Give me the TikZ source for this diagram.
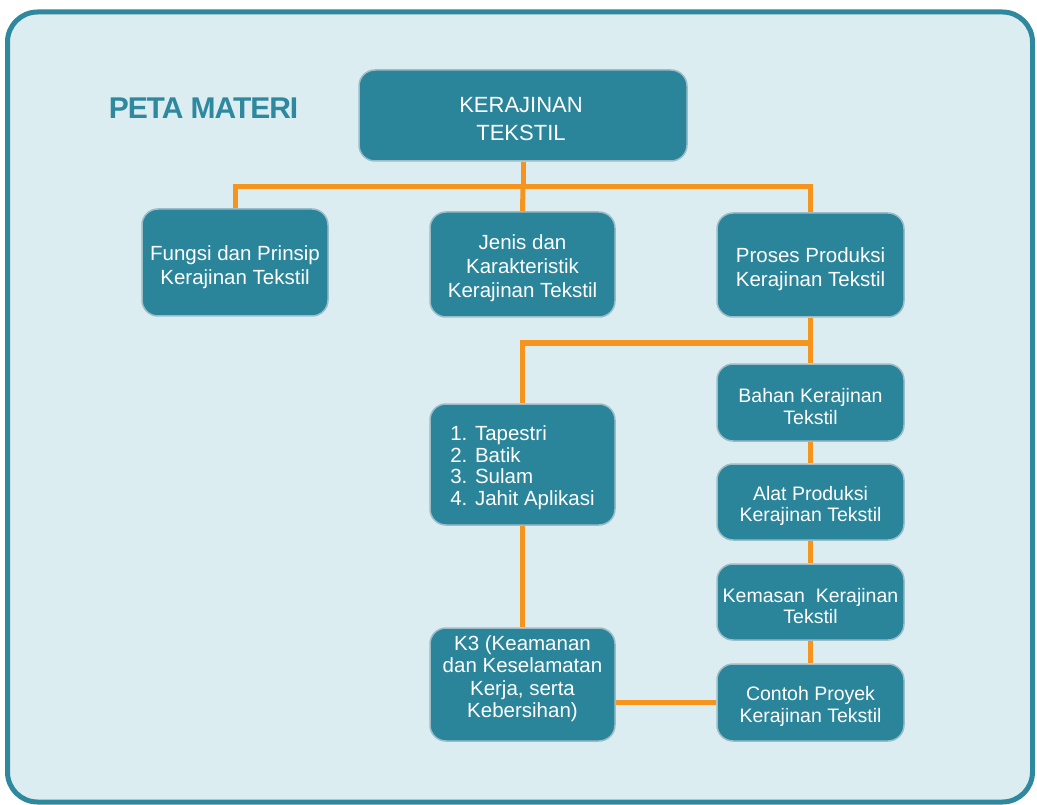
\documentclass[tikz,border=0pt]{standalone}
\usepackage{fontspec}
\setmainfont{Liberation Sans}
\definecolor{frameteal}{HTML}{2E889E}
\definecolor{bgpale}{HTML}{DCEDF1}
\definecolor{boxteal}{HTML}{2A859A}
\definecolor{boxedge}{HTML}{9CBCC8}
\definecolor{linkorange}{HTML}{F7941D}
\begin{document}
\begin{tikzpicture}[x=1pt,y=-1pt,
  box/.style={draw=boxedge, line width=1.5pt, fill=boxteal, rounded corners=16pt, inner sep=0pt},
  txt/.style={text=white, align=center, inner sep=0pt, font=\fontsize{20.5}{24}\selectfont},
  smalltxt/.style={txt, font=\fontsize{19.5}{21.5}\selectfont},
  link/.style={draw=linkorange, line width=5pt}
]
\useasboundingbox (0,0) rectangle (1037,805);
\draw[frameteal, line width=5pt, fill=bgpale, rounded corners=30pt] (7.5,12) rectangle (1032.5,802);

\node[text=frameteal, inner sep=0pt, font=\fontsize{30}{32}\selectfont\bfseries\addfontfeature{LetterSpace=-3.5}] (title) at (203.5,108) {PETA MATERI};

\node[box, minimum width=328pt, minimum height=91pt,
  label={[txt, font=\fontsize{22}{28}\selectfont, xshift=-2pt, yshift=-4pt]center:{KERAJINAN\\TEKSTIL}}] (top) at (523,115.5) {};
\node[box, minimum width=186pt, minimum height=107pt,
  label={[txt, yshift=-5pt]center:{Fungsi dan Prinsip\\Kerajinan Tekstil}}] (fungsi) at (235,262.5) {};
\node[box, minimum width=185pt, minimum height=105pt,
  label={[txt, yshift=-4pt]center:{Jenis dan\\Karakteristik\\Kerajinan Tekstil}}] (jenis) at (522.5,264.5) {};
\node[box, minimum width=187pt, minimum height=104pt,
  label={[txt, yshift=-4pt]center:{Proses Produksi\\Kerajinan Tekstil}}] (proses) at (810.5,265) {};
\node[box, minimum width=185pt, minimum height=121pt,
  label={[txt, yshift=-4pt, font=\fontsize{20.5}{21.5}\selectfont]center:{\begin{tabular}{@{}l@{}}1. Tapestri\\2. Batik\\3. Sulam\\4. Jahit Aplikasi\end{tabular}}}] (list) at (522.5,464.5) {};
\node[box, minimum width=185pt, minimum height=113pt,
  label={[txt, yshift=6pt, font=\fontsize{20.5}{22.5}\selectfont]center:{K3 (Keamanan\\dan Keselamatan\\Kerja, serta\\Kebersihan)}}] (k3) at (522.5,684.5) {};
\node[box, minimum width=187pt, minimum height=77pt,
  label={[smalltxt, yshift=-4pt]center:{Bahan Kerajinan\\Tekstil}}] (bahan) at (810.5,402.5) {};
\node[box, minimum width=187pt, minimum height=76pt,
  label={[smalltxt, yshift=-4pt]center:{Alat Produksi\\Kerajinan Tekstil}}] (alat) at (810.5,502) {};
\node[box, minimum width=187pt, minimum height=76pt,
  label={[smalltxt, yshift=-4pt]center:{Kemasan\ \ Kerajinan\\Tekstil}}] (kemasan) at (810.5,602) {};
\node[box, minimum width=187pt, minimum height=77pt,
  label={[smalltxt, yshift=-4pt]center:{Contoh Proyek\\Kerajinan Tekstil}}] (contoh) at (810.5,702.5) {};

\coordinate (bus1) at (523,187);
\coordinate (bus2) at (810.5,343);

\draw[link] (top.south) -- (bus1);
\draw[link] (fungsi.north) |- (bus1) -| (proses.north);
\draw[link] (bus1) -- (jenis.north);
\draw[link] (proses.south) -- (bahan.north);
\draw[link] (bus2) -| (list.north);
\draw[link] (list.south) -- (k3.north);
\draw[link] (bahan.south) -- (alat.north);
\draw[link] (alat.south) -- (kemasan.north);
\draw[link] (kemasan.south) -- (contoh.north);
\draw[link] (contoh.west) -- (contoh.west -| k3.east);
\end{tikzpicture}
\end{document}
